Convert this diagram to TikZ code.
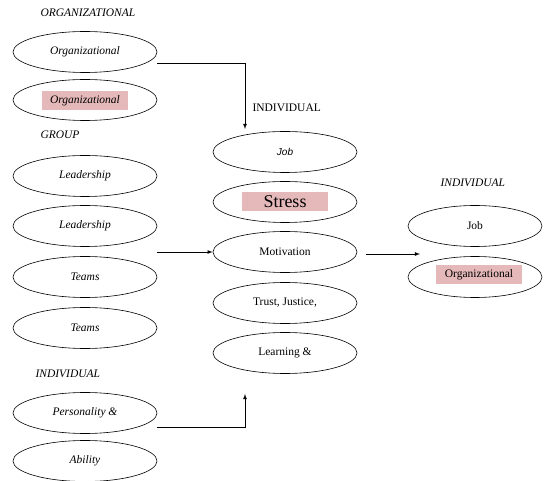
\documentclass[tikz,border=0pt]{standalone}
\usepackage{fontspec}
\setmainfont{Liberation Serif}[ItalicFont={Liberation Serif Italic}]
\newfontfamily\jobfont{Liberation Sans}[ItalicFont={Liberation Sans Italic}]
\usetikzlibrary{shapes.geometric}
\definecolor{hilite}{RGB}{229,184,185}

\begin{document}
\begin{tikzpicture}[x=1pt, y=-1pt, font=\fontsize{11.5}{13}\selectfont,
    oval/.style={draw, ellipse, line width=0.6pt, minimum width=144pt, minimum height=41pt, inner sep=0pt},
    slim/.style={oval, minimum width=134pt},
    heading/.style={anchor=west, font=\fontsize{11.5}{13}\selectfont\itshape},
    pinkbox/.style={fill=hilite, minimum width=86pt, minimum height=19pt, inner sep=0pt},
    feed/.style={line width=0.8pt, -latex}]
    \useasboundingbox (0,0) rectangle (544,481);

    % Left column -- organizational
    \node[heading] (orghead) at (37,13) {ORGANIZATIONAL};
    \node[oval, font=\fontsize{11.5}{13}\selectfont\itshape] (org1) at (85,52) {Organizational};
    \node[oval] (org2) at (85,100) {};
    \node[pinkbox, font=\fontsize{11.5}{13}\selectfont\itshape] (org2txt) at (85,101) {Organizational};

    % -- group
    \node[heading] (grphead) at (37,135) {GROUP};
    \node[oval, font=\fontsize{11.5}{13}\selectfont\itshape] (lead1) at (85,176) {Leadership};
    \node[oval, font=\fontsize{11.5}{13}\selectfont\itshape] (lead2) at (85,226) {Leadership};
    \node[oval, font=\fontsize{11.5}{13}\selectfont\itshape] (team1) at (85,277) {Teams};
    \node[oval, font=\fontsize{11.5}{13}\selectfont\itshape] (team2) at (85,328) {Teams};

    % -- individual
    \node[heading] (indhead) at (32,374) {INDIVIDUAL};
    \node[oval, font=\fontsize{11.5}{13}\selectfont\itshape] (pers) at (85,413) {Personality \&};
    \node[oval, font=\fontsize{11.5}{13}\selectfont\itshape] (abil) at (85,461) {Ability};

    % Middle column
    \node[anchor=west] (midhead) at (249,108) {INDIVIDUAL};
    \node[oval, font=\fontsize{10}{12}\selectfont\jobfont\itshape] (job) at (285,152) {Job};
    \node[oval] (stress) at (285,202) {};
    \node[pinkbox, font=\fontsize{18}{20}\selectfont] (stresstxt) at (285,202) {Stress};
    \node[oval] (motiv) at (285,252) {Motivation};
    \node[oval] (trust) at (285,303) {Trust, Justice,};
    \node[oval] (learn) at (285,353) {Learning \&};

    % Right column
    \node[heading] (righthead) at (437,183) {INDIVIDUAL};
    \node[slim] (rjob) at (475,226) {Job};
    \node[slim] (rorg) at (475,277) {};
    \node[pinkbox] (rorgtxt) at (479,275) {Organizational};

    % Connector ends
    \coordinate (orgout) at (157,63);
    \coordinate (jobin) at (245,129);
    \coordinate (grpout) at (157,252);
    \coordinate (persout) at (157,427);
    \coordinate (learnin) at (245,394);
    \coordinate (motout) at (366,254);
    \coordinate (rightin) at (420,254);

    % Connectors
    \draw[feed] (orgout) -| (jobin);
    \draw[feed] (grpout) -- (motiv.west);
    \draw[feed] (persout) -| (learnin);
    \draw[feed] (motout) -- (rightin);
\end{tikzpicture}
\end{document}
